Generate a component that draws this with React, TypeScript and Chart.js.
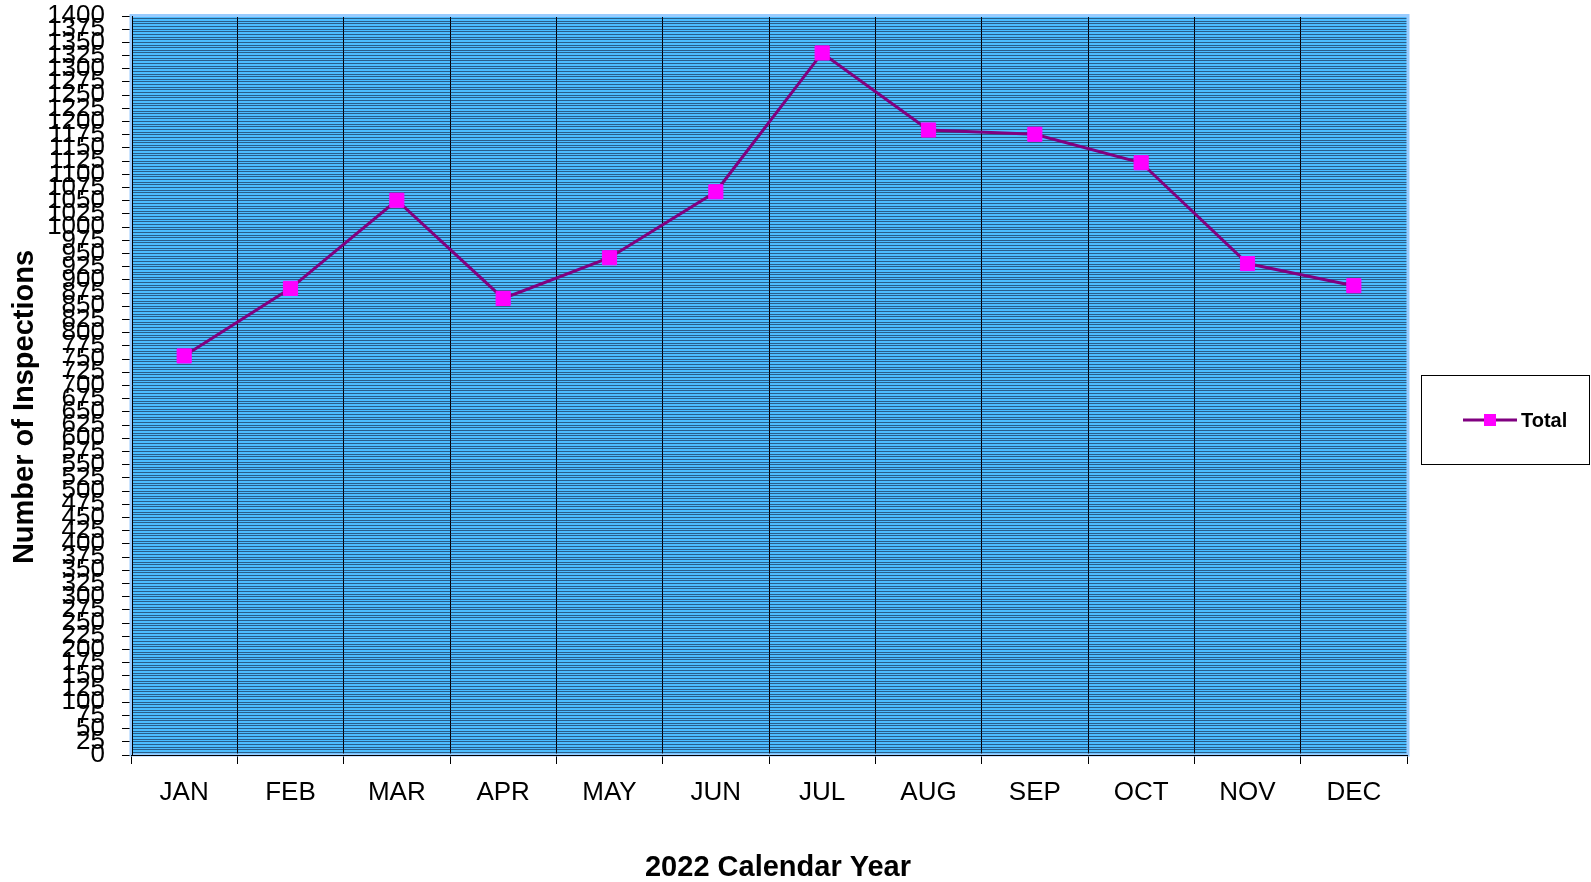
import React, { useEffect, useRef } from "react";
import { Chart, registerables } from "chart.js";

Chart.register(...registerables);

const months = ["JAN", "FEB", "MAR", "APR", "MAY", "JUN", "JUL", "AUG", "SEP", "OCT", "NOV", "DEC"];
const totals = [756, 884, 1051, 865, 942, 1067, 1330, 1184, 1176, 1122, 931, 889];
const seriesLabel = "Total";
const xTitle = "2022 Calendar Year";
const yTitle = "Number of Inspections";
const yMin = 0;
const yMax = 1400;
const labelStep = 25;
const gridStep = 5;

const W = 1591;
const H = 882;
const LINE_COLOR = "#800080";
const MARKER_COLOR = "#FF00FF";
const PLOT_BG = "#4CBDFF";
const GRID = "rgba(20,30,60,0.6)";
const FRAME = "#99CCFF";
const TICK_FONT = "'Liberation Sans', Arial, sans-serif";
const TITLE_FONT = "'Liberation Sans', Arial, sans-serif";

const plotDecor = {
  id: "plotDecor",
  beforeDraw(chart: any) {
    const { ctx, chartArea: a } = chart;
    ctx.save();
    ctx.fillStyle = PLOT_BG;
    ctx.fillRect(a.left, a.top, a.right - a.left, a.bottom - a.top);
    ctx.restore();
  },
  beforeDatasetsDraw(chart: any) {
    const { ctx, chartArea: a } = chart;
    ctx.save();
    ctx.strokeStyle = FRAME;
    ctx.lineWidth = 3;
    ctx.strokeRect(a.left, a.top - 0.5, a.right - a.left + 1, a.bottom - a.top + 0.5);
    ctx.strokeStyle = "#000";
    ctx.lineWidth = 1;
    ctx.beginPath();
    ctx.moveTo(a.left + 1.5, a.top);
    ctx.lineTo(a.left + 1.5, a.bottom);
    ctx.moveTo(a.left, a.bottom + 0.5);
    ctx.lineTo(a.right + 1, a.bottom + 0.5);
    ctx.stroke();
    ctx.restore();
  },
  afterDraw(chart: any) {
    const { ctx } = chart;
    const ds = chart.data.datasets[0];
    ctx.save();
    // axis titles
    ctx.fillStyle = "#000";
    ctx.font = "bold 29px " + TITLE_FONT;
    ctx.textAlign = "center";
    ctx.textBaseline = "middle";
    ctx.fillText(xTitle, 778, 868);
    ctx.save();
    ctx.translate(25, 407);
    ctx.rotate(-Math.PI / 2);
    ctx.fillText(yTitle, 0, 0);
    ctx.restore();
    // legend box
    ctx.strokeStyle = "#000";
    ctx.lineWidth = 1;
    ctx.strokeRect(1421.5, 375.5, 168, 89);
    const cy = 420;
    ctx.strokeStyle = ds.borderColor;
    ctx.lineWidth = 3;
    ctx.beginPath();
    ctx.moveTo(1463, cy);
    ctx.lineTo(1517, cy);
    ctx.stroke();
    ctx.fillStyle = ds.pointBackgroundColor;
    ctx.fillRect(1484, cy - 6, 12, 12);
    ctx.fillStyle = "#000";
    ctx.font = "bold 20px " + TITLE_FONT;
    ctx.textBaseline = "middle";
    ctx.textAlign = "left";
    ctx.fillText(ds.label, 1521, cy + 1);
    ctx.restore();
  },
};

export default function App() {
  const ref = useRef<HTMLCanvasElement | null>(null);
  useEffect(() => {
    document.body.style.margin = "0";
    const canvas = ref.current!;
    const chart = new Chart(canvas, {
      type: "line",
      data: {
        labels: months,
        datasets: [
          {
            label: seriesLabel,
            data: totals,
            borderColor: LINE_COLOR,
            borderWidth: 3,
            backgroundColor: MARKER_COLOR,
            pointBackgroundColor: MARKER_COLOR,
            pointBorderColor: MARKER_COLOR,
            pointBorderWidth: 1,
            pointStyle: "rect",
            pointRadius: 10,
            tension: 0,
          } as any,
        ],
      },
      options: {
        responsive: false,
        animation: false,
        devicePixelRatio: 1,
        layout: { padding: { top: 0, right: W - 1407, bottom: 0, left: 0 } },
        plugins: {
          legend: { display: false },
          tooltip: { enabled: false },
        },
        scales: {
          x: {
            type: "category",
            offset: true,
            afterFit: (s: any) => {
              s.height = H - 755;
            },
            grid: {
              offset: true,
              color: "#000",
              lineWidth: 1,
              tickLength: 9,
              drawOnChartArea: true,
            },
            border: { display: false },
            ticks: {
              color: "#000",
              font: { family: TICK_FONT, size: 26 },
              padding: 13,
              maxRotation: 0,
              autoSkip: false,
            },
          },
          y: {
            type: "linear",
            min: yMin,
            max: yMax,
            afterFit: (s: any) => {
              s.width = 131;
              s.paddingTop = 16;
            },
            grid: {
              color: GRID,
              lineWidth: 1,
              tickLength: 9,
              tickColor: (c: any) =>
                c.tick && c.tick.value % labelStep === 0 ? "#000" : "rgba(0,0,0,0)",
            },
            border: { display: false },
            ticks: {
              stepSize: gridStep,
              autoSkip: false,
              color: "#000",
              padding: 17,
              font: { family: TICK_FONT, size: 26 },
              callback: (v: any) => (Number(v) % labelStep === 0 ? String(v) : ""),
            },
          },
        },
      },
      plugins: [plotDecor],
    });
    return () => chart.destroy();
  }, []);
  return (
    <div style={{ width: W, height: H }}>
      <canvas ref={ref} width={W} height={H} style={{ display: "block" }} />
    </div>
  );
}
